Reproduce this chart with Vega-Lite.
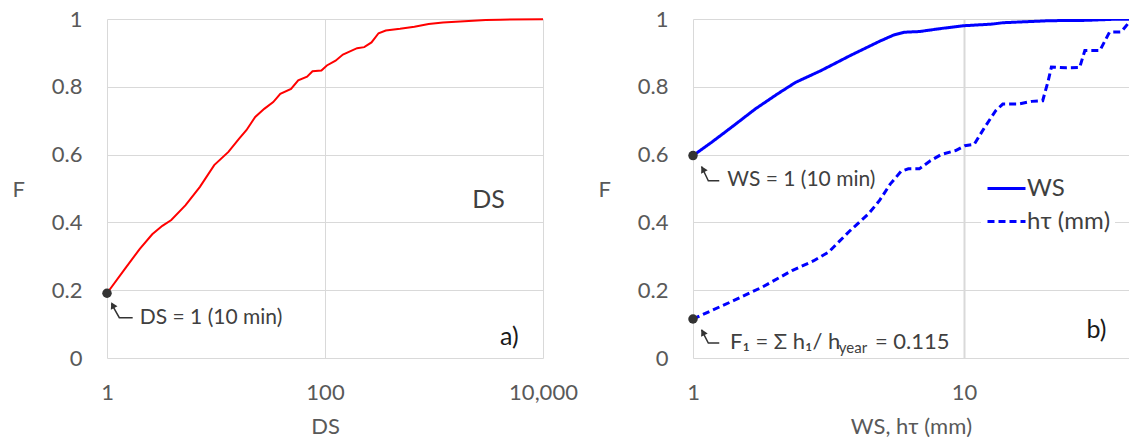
{
  "$schema": "https://vega.github.io/schema/vega-lite/v6.json",
  "padding": {"left": 12, "top": 8, "right": 0, "bottom": 0},
  "background": "white",
  "spacing": 150,
  "bounds": "flush",
  "config": {
    "view": {"stroke": null},
    "font": "Lato",
    "axis": {
      "labelFont": "Lato", "titleFont": "Lato",
      "labelColor": "#595959", "titleColor": "#595959",
      "labelFontSize": 22, "titleFontSize": 22, "titleFontWeight": "normal",
      "domain": false, "ticks": false,
      "gridColor": "#D9D9D9", "gridWidth": 1,
      "labelFlush": false, "labelOverlap": false
    }
  },
  "hconcat": [
    {
      "width": 436, "height": 339,
      "layer": [
        {
          "data": {"values": [
            {"DS": 1, "F": 0.191}, {"DS": 1.5, "F": 0.268}, {"DS": 2.0, "F": 0.322}, {"DS": 2.6, "F": 0.365},
            {"DS": 3.22, "F": 0.39}, {"DS": 3.89, "F": 0.407}, {"DS": 5.26, "F": 0.451}, {"DS": 7.12, "F": 0.505}, {"DS": 9.63, "F": 0.569},
            {"DS": 13, "F": 0.608}, {"DS": 16.3, "F": 0.647}, {"DS": 19, "F": 0.672}, {"DS": 22.9, "F": 0.711},
            {"DS": 27.7, "F": 0.735}, {"DS": 33.5, "F": 0.755}, {"DS": 38.9, "F": 0.779}, {"DS": 48.8, "F": 0.794},
            {"DS": 56.8, "F": 0.819}, {"DS": 68.5, "F": 0.83}, {"DS": 76.8, "F": 0.846}, {"DS": 92.7, "F": 0.848},
            {"DS": 104, "F": 0.863}, {"DS": 125, "F": 0.877}, {"DS": 146, "F": 0.895}, {"DS": 197, "F": 0.914},
            {"DS": 229, "F": 0.917}, {"DS": 267, "F": 0.931}, {"DS": 310, "F": 0.958}, {"DS": 361, "F": 0.966},
            {"DS": 488, "F": 0.971}, {"DS": 661, "F": 0.977}, {"DS": 893, "F": 0.985}, {"DS": 1208, "F": 0.99},
            {"DS": 1901, "F": 0.993}, {"DS": 2987, "F": 0.997}, {"DS": 4043, "F": 0.998}, {"DS": 10000, "F": 0.999}
          ]},
          "mark": {"type": "line", "color": "#FF0000", "strokeWidth": 2},
          "encoding": {
            "x": {"field": "DS", "type": "quantitative",
              "scale": {"type": "log", "domain": [1, 10000], "nice": false},
              "axis": {"values": [1, 100, 10000], "format": ",", "title": "DS", "grid": true,
                "labelPadding": 24, "titleY": 68, "titleBaseline": "middle"}},
            "y": {"field": "F", "type": "quantitative",
              "scale": {"domain": [0, 1]},
              "axis": {"values": [0, 0.2, 0.4, 0.6, 0.8, 1], "format": "~g", "title": "F", "grid": true,
                "labelPadding": 25, "titleAngle": 0, "titleX": -95, "titleY": 170,
                "titleAlign": "left", "titleBaseline": "middle"}}
          }
        },
        {
          "data": {"values": [{"DS": 1.72, "F": 0.119, "o": 1}, {"DS": 1.297, "F": 0.119, "o": 2}, {"DS": 1.1, "F": 0.16, "o": 3}]},
          "mark": {"type": "line", "color": "#333333", "strokeWidth": 1.5},
          "encoding": {"x": {"field": "DS", "type": "quantitative"}, "y": {"field": "F", "type": "quantitative"}, "order": {"field": "o"}}
        },
        {
          "data": {"values": [{"DS": 1.128, "F": 0.156}]},
          "mark": {"type": "point", "shape": "triangle-up", "filled": true, "size": 55, "angle": 333, "color": "#333333", "opacity": 1},
          "encoding": {"x": {"field": "DS", "type": "quantitative"}, "y": {"field": "F", "type": "quantitative"}}
        },
        {
          "data": {"values": [{"DS": 1, "F": 0.191}]},
          "mark": {"type": "point", "filled": true, "size": 90, "color": "#333333", "opacity": 1},
          "encoding": {"x": {"field": "DS", "type": "quantitative"}, "y": {"field": "F", "type": "quantitative"}}
        },
        {
          "data": {"values": [{"DS": 2.0, "F": 0.119, "t": "DS = 1 (10 min)"}]},
          "mark": {"type": "text", "align": "left", "baseline": "middle", "fontSize": 21, "color": "#404040", "font": "Lato"},
          "encoding": {"x": {"field": "DS", "type": "quantitative"}, "y": {"field": "F", "type": "quantitative"}, "text": {"field": "t"}}
        },
        {
          "data": {"values": [{"DS": 4454, "F": 0.467, "t": "DS"}]},
          "mark": {"type": "text", "align": "right", "baseline": "middle", "fontSize": 25, "color": "#404040", "font": "Lato"},
          "encoding": {"x": {"field": "DS", "type": "quantitative"}, "y": {"field": "F", "type": "quantitative"}, "text": {"field": "t"}}
        },
        {
          "data": {"values": [{"DS": 5984, "F": 0.062, "t": "a)"}]},
          "mark": {"type": "text", "align": "right", "baseline": "middle", "fontSize": 25, "color": "#1a1a1a", "font": "Lato"},
          "encoding": {"x": {"field": "DS", "type": "quantitative"}, "y": {"field": "F", "type": "quantitative"}, "text": {"field": "t"}}
        }
      ]
    },
    {
      "width": 436, "height": 339,
      "layer": [
        {
          "data": {"values": [
            {"v": 1, "F": 0.597, "s": "WS"}, {"v": 1.17, "F": 0.636, "s": "WS"}, {"v": 1.41, "F": 0.685, "s": "WS"},
            {"v": 1.7, "F": 0.735, "s": "WS"}, {"v": 2.05, "F": 0.779, "s": "WS"}, {"v": 2.39, "F": 0.813, "s": "WS"},
            {"v": 2.97, "F": 0.848, "s": "WS"}, {"v": 3.8, "F": 0.892, "s": "WS"}, {"v": 4.87, "F": 0.934, "s": "WS"},
            {"v": 5.51, "F": 0.953, "s": "WS"}, {"v": 6.04, "F": 0.961, "s": "WS"}, {"v": 6.84, "F": 0.963, "s": "WS"},
            {"v": 8.23, "F": 0.972, "s": "WS"}, {"v": 9.91, "F": 0.98, "s": "WS"}, {"v": 12.7, "F": 0.985, "s": "WS"},
            {"v": 13.9, "F": 0.989, "s": "WS"}, {"v": 20.7, "F": 0.995, "s": "WS"}, {"v": 28.3, "F": 0.996, "s": "WS"},
            {"v": 35.2, "F": 0.999, "s": "WS"}, {"v": 40.6, "F": 0.999, "s": "WS"},
            {"v": 1, "F": 0.115, "s": "hτ (mm)"}, {"v": 1.17, "F": 0.14, "s": "hτ (mm)"}, {"v": 1.41, "F": 0.169, "s": "hτ (mm)"},
            {"v": 1.81, "F": 0.21, "s": "hτ (mm)"}, {"v": 2.32, "F": 0.258, "s": "hτ (mm)"}, {"v": 2.79, "F": 0.287, "s": "hτ (mm)"},
            {"v": 3.16, "F": 0.312, "s": "hτ (mm)"}, {"v": 3.8, "F": 0.376, "s": "hτ (mm)"}, {"v": 4.44, "F": 0.425, "s": "hτ (mm)"},
            {"v": 4.87, "F": 0.464, "s": "hτ (mm)"}, {"v": 5.34, "F": 0.513, "s": "hτ (mm)"}, {"v": 5.86, "F": 0.551, "s": "hτ (mm)"},
            {"v": 6.23, "F": 0.558, "s": "hτ (mm)"}, {"v": 6.84, "F": 0.558, "s": "hτ (mm)"}, {"v": 7.51, "F": 0.582, "s": "hτ (mm)"},
            {"v": 8.23, "F": 0.6, "s": "hτ (mm)"}, {"v": 9.31, "F": 0.612, "s": "hτ (mm)"}, {"v": 10.06, "F": 0.626, "s": "hτ (mm)"},
            {"v": 10.9, "F": 0.63, "s": "hτ (mm)"}, {"v": 11.9, "F": 0.68, "s": "hτ (mm)"}, {"v": 13.1, "F": 0.73, "s": "hτ (mm)"},
            {"v": 13.9, "F": 0.749, "s": "hτ (mm)"}, {"v": 15.8, "F": 0.749, "s": "hτ (mm)"}, {"v": 17.8, "F": 0.757, "s": "hτ (mm)"},
            {"v": 19.5, "F": 0.759, "s": "hτ (mm)"}, {"v": 20.4, "F": 0.815, "s": "hτ (mm)"}, {"v": 21, "F": 0.858, "s": "hτ (mm)"},
            {"v": 23.9, "F": 0.856, "s": "hτ (mm)"}, {"v": 26.7, "F": 0.857, "s": "hτ (mm)"}, {"v": 27.9, "F": 0.907, "s": "hτ (mm)"},
            {"v": 31.7, "F": 0.907, "s": "hτ (mm)"}, {"v": 34.4, "F": 0.961, "s": "hτ (mm)"}, {"v": 38, "F": 0.962, "s": "hτ (mm)"},
            {"v": 40.6, "F": 0.99, "s": "hτ (mm)"}
          ]},
          "mark": {"type": "line", "color": "#0000FF", "strokeWidth": 3, "clip": true},
          "encoding": {
            "x": {"field": "v", "type": "quantitative",
              "scale": {"type": "log", "domain": [1, 40.6], "nice": false},
              "axis": {"values": [1, 10], "format": "~g", "title": "WS, hτ (mm)", "grid": true,
                "gridWidth": {"condition": {"test": "datum.value == 10", "value": 2}, "value": 1},
                "labelPadding": 24, "titleY": 68, "titleBaseline": "middle"}},
            "y": {"field": "F", "type": "quantitative",
              "scale": {"domain": [0, 1]},
              "axis": {"values": [0, 0.2, 0.4, 0.6, 0.8, 1], "format": "~g", "title": "F", "grid": true,
                "labelPadding": 25, "titleAngle": 0, "titleX": -95, "titleY": 170,
                "titleAlign": "left", "titleBaseline": "middle"}},
            "strokeDash": {"field": "s", "type": "nominal",
              "scale": {"domain": ["WS", "hτ (mm)"], "range": [[1, 0], [7, 4]]},
              "legend": {"orient": "none", "legendX": 874, "legendY": 144, "title": null,
                "fillColor": "white", "padding": 5, "symbolType": "stroke", "symbolSize": 1444,
                "symbolStrokeColor": "#0000FF", "symbolStrokeWidth": 3, "rowPadding": 0,
                "labelFont": "Lato", "labelFontSize": 24, "labelColor": "#404040", "labelOffset": 0, "labelLimit": 200}}
          }
        },
        {
          "data": {"values": [
            {"v": 1.25, "F": 0.523, "g": "a", "o": 1}, {"v": 1.139, "F": 0.523, "g": "a", "o": 2}, {"v": 1.075, "F": 0.565, "g": "a", "o": 3},
            {"v": 1.25, "F": 0.0443, "g": "b", "o": 1}, {"v": 1.139, "F": 0.0443, "g": "b", "o": 2}, {"v": 1.075, "F": 0.083, "g": "b", "o": 3}
          ]},
          "mark": {"type": "line", "color": "#333333", "strokeWidth": 1.5},
          "encoding": {"x": {"field": "v", "type": "quantitative"}, "y": {"field": "F", "type": "quantitative"}, "detail": {"field": "g"}, "order": {"field": "o"}}
        },
        {
          "data": {"values": [{"v": 1.088, "F": 0.557}, {"v": 1.088, "F": 0.076}]},
          "mark": {"type": "point", "shape": "triangle-up", "filled": true, "size": 55, "angle": 333, "color": "#333333", "opacity": 1},
          "encoding": {"x": {"field": "v", "type": "quantitative"}, "y": {"field": "F", "type": "quantitative"}}
        },
        {
          "data": {"values": [{"v": 1, "F": 0.597}, {"v": 1, "F": 0.115}]},
          "mark": {"type": "point", "filled": true, "size": 90, "color": "#333333", "opacity": 1},
          "encoding": {"x": {"field": "v", "type": "quantitative"}, "y": {"field": "F", "type": "quantitative"}}
        },
        {
          "data": {"values": [{"v": 1.338, "F": 0.524, "t": "WS = 1 (10 min)"}]},
          "mark": {"type": "text", "align": "left", "baseline": "middle", "fontSize": 21, "color": "#404040", "font": "Lato"},
          "encoding": {"x": {"field": "v", "type": "quantitative"}, "y": {"field": "F", "type": "quantitative"}, "text": {"field": "t"}}
        },
        {
          "data": {"values": [
            {"v": 1.369, "F": 0.047, "t": "F₁ = Σ h₁/ h"},
            {"v": 4.69, "F": 0.047, "t": "= 0.115"}
          ]},
          "mark": {"type": "text", "align": "left", "baseline": "middle", "fontSize": 22, "color": "#404040", "font": "Lato"},
          "encoding": {"x": {"field": "v", "type": "quantitative"}, "y": {"field": "F", "type": "quantitative"}, "text": {"field": "t"}}
        },
        {
          "data": {"values": [{"v": 3.45, "F": 0.03, "t": "year"}]},
          "mark": {"type": "text", "align": "left", "baseline": "middle", "fontSize": 15, "color": "#404040", "font": "Lato"},
          "encoding": {"x": {"field": "v", "type": "quantitative"}, "y": {"field": "F", "type": "quantitative"}, "text": {"field": "t"}}
        },
        {
          "data": {"values": [{"v": 33.5, "F": 0.082, "t": "b)"}]},
          "mark": {"type": "text", "align": "right", "baseline": "middle", "fontSize": 25, "color": "#1a1a1a", "font": "Lato"},
          "encoding": {"x": {"field": "v", "type": "quantitative"}, "y": {"field": "F", "type": "quantitative"}, "text": {"field": "t"}}
        }
      ]
    }
  ]
}
